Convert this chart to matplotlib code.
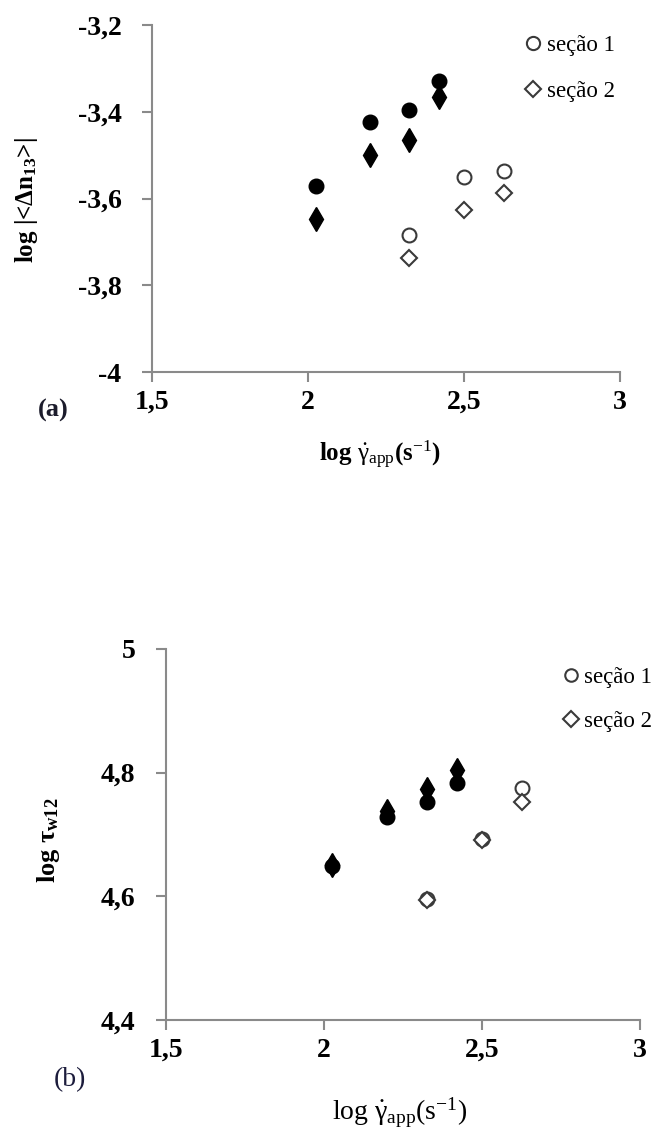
import matplotlib
matplotlib.use("Agg")
import matplotlib.pyplot as plt

plt.rcParams["font.family"] = ["Liberation Serif", "DejaVu Serif"]
plt.rcParams["mathtext.fontset"] = "custom"
plt.rcParams["mathtext.rm"] = "Liberation Serif"
plt.rcParams["mathtext.it"] = "Liberation Serif:italic"
plt.rcParams["mathtext.bf"] = "Liberation Serif:bold"

# log of apparent shear rate
x_filled = [2.025, 2.200, 2.325, 2.420]
x_open = [2.325, 2.500, 2.627]

# (a) log |<Δn13>|
a_circ_filled = [-3.572, -3.424, -3.397, -3.330]
a_diam_filled = [-3.647, -3.500, -3.466, -3.366]
a_circ_open = [-3.685, -3.551, -3.536]
a_diam_open = [-3.738, -3.627, -3.588]

# (b) log τw12
b_circ_filled = [4.649, 4.728, 4.753, 4.783]
b_diam_filled = [4.650, 4.738, 4.774, 4.805]
b_circ_open = [4.595, 4.692, 4.775]
b_diam_open = [4.594, 4.691, 4.753]

x_ticks = [1.5, 2.0, 2.5, 3.0]
x_ticklabels = ["1,5", "2", "2,5", "3"]
a_yticks = [-4.0, -3.8, -3.6, -3.4, -3.2]
a_yticklabels = ["-4", "-3,8", "-3,6", "-3,4", "-3,2"]
b_yticks = [4.4, 4.6, 4.8, 5.0]
b_yticklabels = ["4,4", "4,6", "4,8", "5"]
legend_labels = ["seção 1", "seção 2"]

W, H = 652, 1133
fig = plt.figure(figsize=(W / 100, H / 100), dpi=100)


def px_axes(left, top, right, bottom):
    return fig.add_axes([left / W, 1 - bottom / H, (right - left) / W, (bottom - top) / H])


axis_gray = "#8a8a8a"
open_edge = "#3a3a3a"
xlabel_text = "log $\\dot{\\mathrm{\\gamma}}_{\\mathrm{app}}$(s$^{\\mathrm{-1}}$)"


def style(ax, xt, xtl, yt, ytl, ylim):
    ax.set_xlim(1.5, 3.0)
    ax.set_ylim(*ylim)
    for s in ("top", "right"):
        ax.spines[s].set_visible(False)
    for s in ("left", "bottom"):
        ax.spines[s].set_color(axis_gray)
        ax.spines[s].set_linewidth(1.5)
    ax.set_xticks(xt)
    ax.set_xticklabels(xtl)
    ax.set_yticks(yt)
    ax.set_yticklabels(ytl)
    ax.tick_params(direction="out", length=7, width=1.5, color=axis_gray, labelsize=20)
    ax.tick_params(axis="y", pad=15)
    ax.tick_params(axis="x", pad=6)
    for lab in ax.get_xticklabels() + ax.get_yticklabels():
        lab.set_fontweight("bold")


def scatter_set(ax, cf, df, co, do, diamonds_first):
    kw_cf = dict(ls="none", marker="o", ms=10.5, mfc="black", mec="black")
    kw_df = dict(ls="none", marker="d", ms=12, mfc="black", mec="black")
    if diamonds_first:
        ax.plot(x_filled, df, **kw_df)
        ax.plot(x_filled, cf, **kw_cf)
    else:
        ax.plot(x_filled, cf, **kw_cf)
        ax.plot(x_filled, df, **kw_df)
    h1, = ax.plot(x_open, co, ls="none", marker="o", ms=10, mfc="white",
                  mec=open_edge, mew=1.5)
    h2, = ax.plot(x_open, do, ls="none", marker="D", ms=8.5, mfc="white",
                  mec=open_edge, mew=1.5)
    return h1, h2


# panel (a)
ax1 = px_axes(152, 25, 620, 372)
style(ax1, x_ticks, x_ticklabels, a_yticks, a_yticklabels, (-4.0, -3.2))
h1, h2 = scatter_set(ax1, a_circ_filled, a_diam_filled, a_circ_open, a_diam_open, False)
fig.text(26 / W, 1 - 200 / H, "log |<Δn$_{\\mathbf{13}}$>|", fontsize=18,
         fontweight="bold", rotation=90, ha="center", va="center")
fig.text(380 / W, 1 - 455 / H, xlabel_text, fontsize=18, fontweight="bold",
         ha="center", va="center")
fig.text(53 / W, 1 - 410 / H, "(a)", fontsize=19, fontweight="bold",
         ha="center", va="center", color="#1c1c2c")
ax1.legend([h1, h2], legend_labels, loc="upper left", frameon=False,
           bbox_to_anchor=(526 / W, 1 - 35 / H), bbox_transform=fig.transFigure,
           fontsize=16.5, handlelength=0.6, handletextpad=0.3, labelspacing=1.1,
           borderpad=0, borderaxespad=0, markerscale=0.95)

# panel (b)
ax2 = px_axes(166, 649, 640, 1020)
style(ax2, x_ticks, x_ticklabels, b_yticks, b_yticklabels, (4.4, 5.0))
g1, g2 = scatter_set(ax2, b_circ_filled, b_diam_filled, b_circ_open, b_diam_open, True)
fig.text(48 / W, 1 - 840 / H, "log τ$_{\\mathregular{w12}}$", fontsize=19,
         fontweight="bold", rotation=90, ha="center", va="center")
fig.text(400 / W, 1 - 1113 / H, xlabel_text, fontsize=20, ha="center", va="center")
fig.text(70 / W, 1 - 1080 / H, "(b)", fontsize=20, ha="center", va="center",
         color="#1c1c3c")
ax2.legend([g1, g2], legend_labels, loc="upper left", frameon=False,
           bbox_to_anchor=(565 / W, 1 - 667 / H), bbox_transform=fig.transFigure,
           fontsize=16.5, handlelength=0.55, handletextpad=0.3, labelspacing=1.0,
           borderpad=0, borderaxespad=0, markerscale=0.9)

fig.savefig("out.png", dpi=100, facecolor="white")
